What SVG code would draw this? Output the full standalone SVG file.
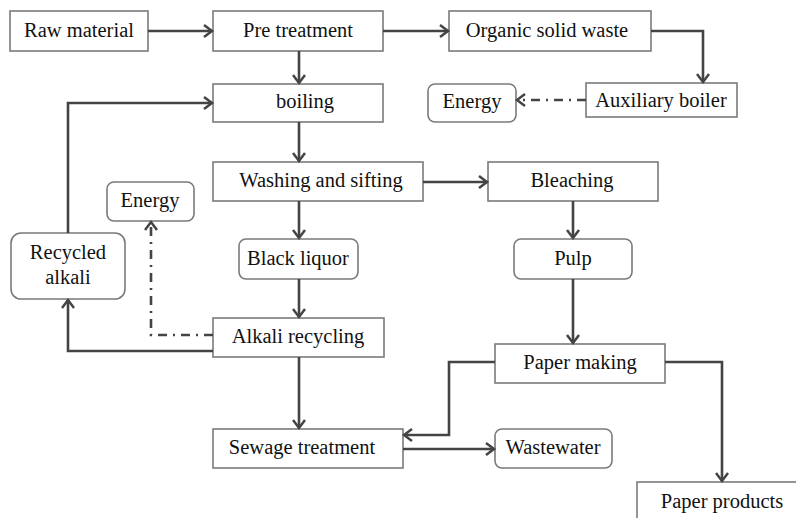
<svg xmlns="http://www.w3.org/2000/svg" width="796" height="518" viewBox="0 0 796 518">
<defs>
<marker id="arr" markerUnits="userSpaceOnUse" markerWidth="14" markerHeight="16" refX="11" refY="7" orient="auto">
<path d="M3,1 L11,7 L3,13" fill="none" stroke="#444" stroke-width="2.5" stroke-linejoin="miter"/>
</marker>
</defs>
<style>
.box{fill:#fff;stroke:#7a7a7a;stroke-width:1.6}
.t{font-family:"Liberation Serif","Times New Roman",serif;font-size:20.5px;fill:#111;text-anchor:middle}
.c{fill:none;stroke:#444;stroke-width:2.6;marker-end:url(#arr)}
.d{stroke-dasharray:9,6,2,6}
</style>
<rect width="796" height="518" fill="#fff"/>
<g id="raw"><rect class="box" x="10" y="11" width="138" height="40"/><text class="t" x="79" y="37">Raw material</text></g>
<g id="pre"><rect class="box" x="213" y="11" width="170" height="40"/><text class="t" x="298" y="37">Pre treatment</text></g>
<g id="organic"><rect class="box" x="449" y="11" width="202" height="40"/><text class="t" x="547" y="37">Organic solid waste</text></g>
<g id="aux"><rect class="box" x="586" y="83" width="151" height="34"/><text class="t" x="661" y="107">Auxiliary boiler</text></g>
<g id="energy1"><rect class="box" x="428" y="84" width="88" height="38" rx="7"/><text class="t" x="472" y="108">Energy</text></g>
<g id="boiling"><rect class="box" x="213" y="84" width="170" height="38"/><text class="t" x="305" y="108">boiling</text></g>
<g id="washing"><rect class="box" x="213" y="162" width="210" height="39"/><text class="t" x="321" y="187">Washing and sifting</text></g>
<g id="bleaching"><rect class="box" x="488" y="162" width="170" height="39"/><text class="t" x="572" y="187">Bleaching</text></g>
<g id="energy2"><rect class="box" x="107" y="182" width="87" height="39" rx="7"/><text class="t" x="150" y="207">Energy</text></g>
<g id="recycled"><rect class="box" x="11" y="233" width="114" height="66" rx="10"/><text class="t" x="68" y="259">Recycled</text><text class="t" x="68" y="284">alkali</text></g>
<g id="black"><rect class="box" x="239" y="239" width="119" height="40" rx="7"/><text class="t" x="298" y="265">Black liquor</text></g>
<g id="pulp"><rect class="box" x="514" y="239" width="118" height="40" rx="7"/><text class="t" x="573" y="265">Pulp</text></g>
<g id="alkali"><rect class="box" x="213" y="318" width="171" height="39"/><text class="t" x="298" y="343">Alkali recycling</text></g>
<g id="paper"><rect class="box" x="495" y="344" width="170" height="39"/><text class="t" x="580" y="369">Paper making</text></g>
<g id="sewage"><rect class="box" x="213" y="429" width="190" height="39"/><text class="t" x="302" y="454">Sewage treatment</text></g>
<g id="wastewater"><rect class="box" x="495" y="429" width="117" height="39" rx="7"/><text class="t" x="553" y="454">Wastewater</text></g>
<g id="products"><rect class="box" x="637" y="482" width="180" height="50"/><text class="t" x="722" y="508">Paper products</text></g>
<g id="connectors">
<path class="c" d="M148,31 H212"/>
<path class="c" d="M383,31 H448"/>
<path class="c" d="M651,31 H703 V82"/>
<path class="c d" d="M586,100 H517"/>
<path class="c" d="M299,51 V83"/>
<path class="c" d="M68,233 V103 H212"/>
<path class="c" d="M299,122 V161"/>
<path class="c" d="M423,182 H487"/>
<path class="c" d="M299,201 V238"/>
<path class="c" d="M573,201 V238"/>
<path class="c" d="M299,279 V317"/>
<path class="c d" d="M213,335 H151 V222"/>
<path class="c" d="M213,351 H68 V300"/>
<path class="c" d="M573,279 V343"/>
<path class="c" d="M299,357 V428"/>
<path class="c" d="M495,362 H449 V435 H404"/>
<path class="c" d="M403,449 H494"/>
<path class="c" d="M665,362 H722 V481"/>
</g>
</svg>
